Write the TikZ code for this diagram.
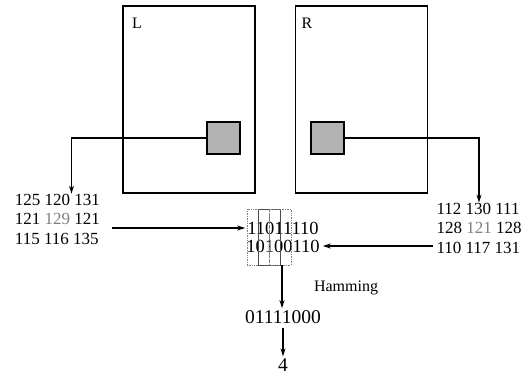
\documentclass[tikz,border=0pt]{standalone}
\usepackage{fontspec}
\setmainfont{Liberation Serif}
\usetikzlibrary{arrows.meta,positioning}

\tikzset{
  frame/.style={draw, line width=1.1pt, minimum width=132pt, minimum height=187pt, inner sep=0pt},
  patch/.style={draw, line width=1.1pt, fill=gray!60, minimum width=33pt, minimum height=32pt, inner sep=0pt},
  label/.style={font=\fontsize{16}{18}\selectfont, inner sep=0pt},
  pixels/.style={font=\fontsize{17}{19.5}\selectfont, align=left, inner sep=0pt},
  bits/.style={font=\fontsize{18.5}{20}\selectfont, inner sep=0pt},
  bigbits/.style={font=\fontsize{19.5}{22}\selectfont, inner sep=0pt},
  flow/.style={line width=1.1pt, -{Stealth[length=8pt,width=5pt]}},
  window/.style={draw=gray, densely dotted, line width=0.7pt, minimum width=22pt, minimum height=56pt, inner sep=0pt},
  windowmid/.style={draw=gray!60!black, line width=0.6pt, minimum width=22pt, minimum height=56pt, inner sep=0pt}
}

\begin{document}
\begin{tikzpicture}[x=1pt,y=-1pt]
  \useasboundingbox (0,0) rectangle (531,377);

  % left and right images
  \node[frame] (Lframe) at (189,99.5) {};
  \node[frame] (Rframe) at (361.5,99.5) {};
  \node[label] (Ltxt) at (137,23) {L};
  \node[label] (Rtxt) at (307,23) {R};

  % the two pixel patches
  \node[patch] (Lpatch) at (223.5,138) {};
  \node[patch] (Rpatch) at (327.5,138) {};

  % 3x3 grey values
  \node[pixels] (Lpix) at (57.5,219) {125 120 131\\121 {\color{gray}129} 121\\115 116 135};
  \node[pixels] (Rpix) at (479,228) {112 130 111\\128 {\color{gray}121} 128\\110 117 131};

  % census bit strings
  \node[bits] (Lbits) at (283,228) {11011110};
  \node[bits] (Rbits) at (283,246) {10100110};

  % comparison windows
  \node[window] (winA) at (258,237) {};
  \node[windowmid] (winB) at (269,237) {};
  \node[window] (winC) at (280,237) {};

  \node[bigbits] (xorbits) at (283,317) {01111000};
  \node[label] (ham) at (346,288) {Hamming};
  \node[bigbits] (dist) at (283,365) {4};

  % connectors
  \draw[flow] (Lpatch.west) -| ([xshift=14pt]Lpix.north);
  \draw[flow] (Rpatch.east) -| (Rpix.north);
  \draw[flow] ([xshift=12pt]Lpix.east |- Lbits.west) -- ([xshift=-2pt]Lbits.west);
  \draw[flow] ([xshift=-3pt]Rpix.west |- Rbits.east) -- ([xshift=3pt]Rbits.east);
  \draw[flow] ([xshift=2pt]winC.south) -- ([xshift=2pt,yshift=2pt]winC.south |- xorbits.north);
  \draw[flow] ([yshift=-4pt]xorbits.south) -- ([yshift=2pt]dist.north);
\end{tikzpicture}
\end{document}
